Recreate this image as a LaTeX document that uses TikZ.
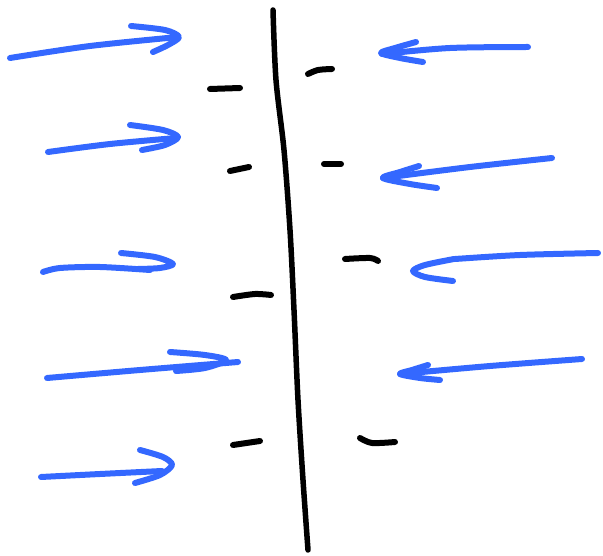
\documentclass[tikz,border=0pt]{standalone}
\usepackage{tikz}

\definecolor{penblue}{RGB}{52,104,255}

\begin{document}
\begin{tikzpicture}[x=1pt, y=-1pt, line cap=round, line join=round]

        \tikzset{
          ink/.style={line width=5.5pt, draw=black},
          charge/.style={line width=6pt, draw=black},
          field/.style={line width=6pt, draw=penblue},
        }

        % Fix the canvas to the size of the sketch
        \useasboundingbox (0,0) rectangle (603,556);

        % Draw the hand drawn wall down the middle
        \draw[ink] plot[smooth] coordinates {(273,10) (276,80) (284,150) (290,230) (294,310) (298,400) (303,480) (308,550)};

        % Minus charges on the left side of the wall
        \draw[charge] plot[smooth] coordinates {(210,89) (240,88)};
        \draw[charge] plot[smooth] coordinates {(230,171) (249,167)};
        \draw[charge] plot[smooth] coordinates {(233,297) (255,294) (271,295)};
        \draw[charge] plot[smooth] coordinates {(233,445) (260,441)};

        % Minus charges on the right side of the wall
        \draw[charge] plot[smooth] coordinates {(308,74) (318,70) (332,69)};
        \draw[charge] plot[smooth] coordinates {(324,164) (341,164)};
        \draw[charge] plot[smooth] coordinates {(345,259) (370,258) (378,261)};
        \draw[charge] plot[smooth] coordinates {(360,438) (372,443) (395,442)};

        % Blue arrows coming in from the left (shaft, then head)
        \draw[field] plot[smooth] coordinates {(10,58) (90,46) (178,37)};
        \draw[field] plot[smooth] coordinates {(131,26) (165,30) (179,37) (168,45) (153,52)};

        \draw[field] plot[smooth] coordinates {(48,152) (110,144) (176,138)};
        \draw[field] plot[smooth] coordinates {(130,125) (163,130) (178,137) (165,145) (142,150)};

        \draw[field] plot[smooth] coordinates {(43,272) (60,268) (100,267) (150,270)};
        \draw[field] plot[smooth] coordinates {(121,253) (155,257) (173,264) (160,268) (138,269)};

        \draw[field] plot[smooth] coordinates {(47,378) (140,370) (238,362)};
        \draw[field] plot[smooth] coordinates {(170,352) (205,355) (226,360) (205,368) (176,371)};

        \draw[field] plot[smooth] coordinates {(41,477) (100,474) (162,471)};
        \draw[field] plot[smooth] coordinates {(140,450) (163,457) (172,465) (160,475) (135,483)};

        % Blue arrows coming in from the right (shaft, then head)
        \draw[field] plot[smooth] coordinates {(528,47) (450,48) (382,54)};
        \draw[field] plot[smooth] coordinates {(416,42) (395,48) (381,53) (400,58) (423,62)};

        \draw[field] plot[smooth] coordinates {(552,158) (470,167) (383,178)};
        \draw[field] plot[smooth] coordinates {(419,166) (400,172) (383,178) (410,184) (437,188)};

        \draw[field] plot[smooth] coordinates {(598,253) (520,255) (455,259)};
        \draw[field] plot[smooth] coordinates {(454,259) (425,265) (413,271) (425,277) (453,281)};

        \draw[field] plot[smooth] coordinates {(582,359) (490,366) (400,374)};
        \draw[field] plot[smooth] coordinates {(428,365) (412,370) (400,374) (420,378) (440,380)};

      \end{tikzpicture}
\end{document}
